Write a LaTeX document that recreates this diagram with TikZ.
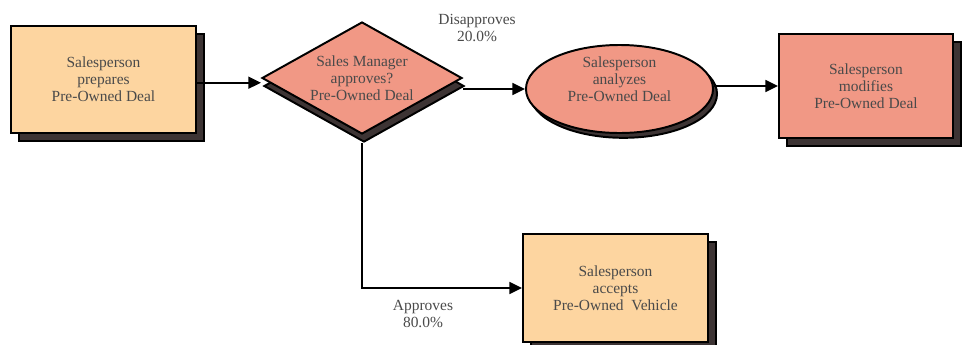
\documentclass[tikz,border=0pt]{standalone}
\usepackage{fontspec}
\setmainfont{Liberation Serif}
\usetikzlibrary{arrows.meta,shapes.geometric,shadows}
\definecolor{peach}{HTML}{FDD5A0}
\definecolor{salmon}{HTML}{F19885}
\definecolor{shadowgray}{HTML}{3D3434}
\definecolor{ink}{HTML}{4A4A4A}
\tikzset{
  boxshadow/.style 2 args={copy shadow={shadow xshift=#1, shadow yshift=-#2,
      fill=shadowgray, draw=black, line width=1.4pt}},
  task/.style={draw=black, line width=1.4pt, text=ink, align=center,
    font=\fontsize{11}{12}\selectfont, inner sep=0pt},
  flow/.style={->, line width=1.3pt},
  tag/.style={text=ink, align=center, font=\fontsize{11}{12}\selectfont, inner sep=0pt}
}

\begin{document}
\begin{tikzpicture}[x=0.025cm, y=-0.025cm, >={Triangle[length=9pt,width=8.5pt]}]
  \useasboundingbox (0,0) rectangle (962,344);
  % steps
  \node[task, fill=peach, minimum width=4.625cm, minimum height=2.675cm,
        boxshadow={0.2cm}{0.2cm}] (prep) at (103.5,79.5)
        {Salesperson\\prepares\\Pre-Owned Deal};
  \node[task, diamond, fill=salmon, minimum width=5cm, minimum height=2.8cm,
        aspect=1.82, boxshadow={0.05cm}{0.2cm}] (mgr) at (362,78)
        {Sales Manager\\approves?\\Pre-Owned Deal};
  \node[task, ellipse, fill=salmon, minimum width=4.675cm, minimum height=2.2cm,
        text depth=0.5cm, inner ysep=-0.3cm, boxshadow={0.1cm}{0.12cm}] (ana) at (619.5,89)
        {Salesperson\\analyzes\\Pre-Owned Deal};
  \node[task, fill=salmon, minimum width=4.35cm, minimum height=2.6cm,
        boxshadow={0.2cm}{0.2cm}] (mod) at (866,86)
        {Salesperson\\modifies\\Pre-Owned Deal};
  \node[task, fill=peach, minimum width=4.625cm, minimum height=2.7cm,
        boxshadow={0.2cm}{0.2cm}] (acc) at (615.5,288)
        {Salesperson\\accepts\\Pre-Owned\ \ Vehicle};
  % branch labels
  \node[tag] (disap) at (477,28) {Disapproves\\20.0\%};
  \node[tag] (appr) at (423,314) {Approves\\80.0\%};
  % connectors
  \draw[flow] ([yshift=-0.08cm]prep.east) -- ([yshift=-0.08cm]prep.east -| mgr.west);
  \draw[flow] (mgr.east |- ana.west) -- (ana.west);
  \draw[flow] (ana.east |- mod.west) -- (mod.west);
  \draw[flow] ([yshift=-0.2cm]mgr.south) |- (acc.west);
\end{tikzpicture}
\end{document}
